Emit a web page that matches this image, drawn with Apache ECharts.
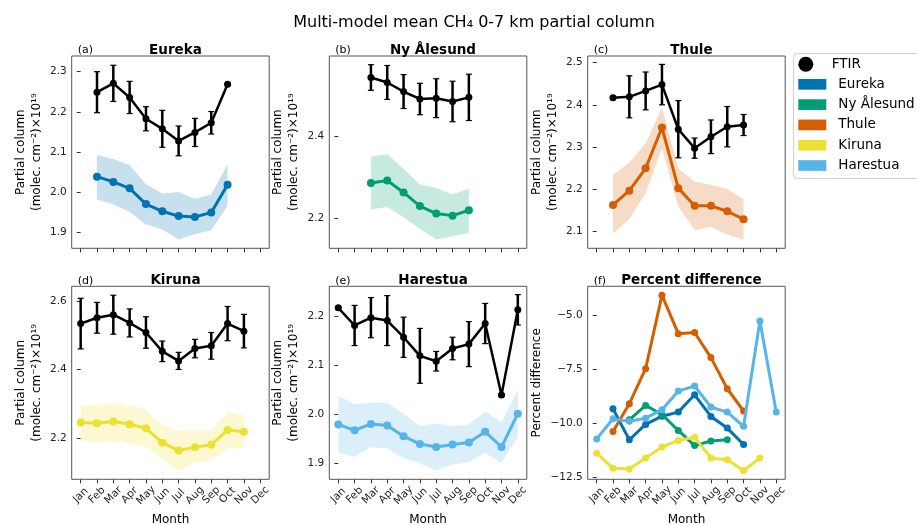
<!DOCTYPE html>
<html>
<head>
<meta charset="utf-8">
<script src="https://cdn.jsdelivr.net/npm/echarts@6/dist/echarts.min.js"></script>
<style>
html, body { margin: 0; padding: 0; background: #fff; }
#chart { width: 917px; height: 525px; }
</style>
</head>
<body>
<div id="chart"></div>
<script>
var myChart = echarts.init(document.getElementById('chart'));

var months = ['Jan', 'Feb', 'Mar', 'Apr', 'May', 'Jun', 'Jul', 'Aug', 'Sep', 'Oct', 'Nov', 'Dec'];
var stations = ['Eureka', 'Ny Ålesund', 'Thule', 'Kiruna', 'Harestua'];
var colors = ['#0173B2', '#029E73', '#D55E00', '#ECE133', '#56B4E9'];

// FTIR monthly means and errors (x1e19 molec/cm2)
var eurekaFtir    = [null, 2.249, 2.271, 2.236, 2.183, 2.158, 2.128, 2.149, 2.173, 2.269, null, null];
var eurekaFtirErr = [null, 0.051, 0.045, 0.040, 0.030, 0.046, 0.037, 0.035, 0.028, 0.003, null, null];
var eurekaModel   = [null, 2.039, 2.026, 2.010, 1.971, 1.953, 1.941, 1.939, 1.950, 2.019, null, null];
var eurekaHi      = [null, 2.093, 2.083, 2.068, 2.020, 1.997, 2.001, 1.984, 1.995, 2.070, null, null];
var eurekaLo      = [null, 1.982, 1.970, 1.951, 1.920, 1.908, 1.883, 1.896, 1.906, 1.967, null, null];

var nyFtir    = [null, null, 2.541, 2.529, 2.507, 2.489, 2.491, 2.483, 2.493, null, null, null];
var nyFtirErr = [null, null, 0.031, 0.041, 0.041, 0.038, 0.047, 0.049, 0.056, null, null, null];
var nyModel   = [null, null, 2.286, 2.292, 2.263, 2.230, 2.212, 2.207, 2.220, null, null, null];
var nyHi      = [null, null, 2.350, 2.356, 2.320, 2.282, 2.274, 2.258, 2.272, null, null, null];
var nyLo      = [null, null, 2.222, 2.228, 2.203, 2.175, 2.149, 2.157, 2.165, null, null, null];

var thuleFtir    = [null, 2.417, 2.419, 2.433, 2.448, 2.342, 2.297, 2.324, 2.348, 2.352, null, null];
var thuleFtirErr = [null, 0.003, 0.050, 0.045, 0.048, 0.068, 0.024, 0.040, 0.048, 0.025, null, null];
var thuleModel   = [null, 2.162, 2.196, 2.249, 2.346, 2.202, 2.160, 2.160, 2.147, 2.128, null, null];
var thuleHi      = [null, 2.233, 2.263, 2.308, 2.394, 2.249, 2.218, 2.210, 2.200, 2.176, null, null];
var thuleLo      = [null, 2.094, 2.128, 2.190, 2.297, 2.159, 2.102, 2.110, 2.091, 2.080, null, null];

var kirunaFtir    = [2.534, 2.551, 2.560, 2.536, 2.508, 2.453, 2.425, 2.461, 2.469, 2.534, 2.512, null];
var kirunaFtirErr = [0.074, 0.045, 0.057, 0.041, 0.046, 0.030, 0.025, 0.027, 0.039, 0.050, 0.049, null];
var kirunaModel   = [2.245, 2.243, 2.248, 2.240, 2.228, 2.186, 2.163, 2.173, 2.180, 2.223, 2.218, null];
var kirunaHi      = [2.294, 2.296, 2.303, 2.293, 2.282, 2.236, 2.221, 2.221, 2.221, 2.275, 2.267, null];
var kirunaLo      = [2.192, 2.186, 2.192, 2.184, 2.175, 2.139, 2.105, 2.126, 2.136, 2.170, 2.170, null];

var harestuaFtir    = [2.218, 2.182, 2.198, 2.192, 2.158, 2.120, 2.109, 2.135, 2.144, 2.186, 2.040, 2.214];
var harestuaFtirErr = [0.003, 0.041, 0.041, 0.051, 0.041, 0.056, 0.020, 0.023, 0.046, 0.041, 0.003, 0.031];
var harestuaModel   = [1.980, 1.968, 1.981, 1.978, 1.956, 1.940, 1.934, 1.939, 1.943, 1.965, 1.934, 2.002];
var harestuaHi      = [2.038, 2.021, 2.024, 2.024, 2.002, 1.977, 1.982, 1.977, 1.980, 2.006, 1.985, 2.050];
var harestuaLo      = [1.922, 1.914, 1.934, 1.931, 1.911, 1.901, 1.886, 1.898, 1.903, 1.922, 1.901, 1.956];

// percent difference model vs FTIR
var eurekaPct   = [null, -9.34, -10.77, -10.06, -9.68, -9.49, -8.69, -9.69, -10.23, -10.99, null, null];
var nyPct       = [null, null, -9.85, -9.18, -9.60, -10.34, -11.04, -10.83, -10.77, null, null, null];
var thulePct    = [null, -10.39, -9.10, -7.48, -4.08, -5.86, -5.81, -6.97, -8.41, -9.44, null, null];
var kirunaPct   = [-11.39, -12.09, -12.12, -11.62, -11.11, -10.80, -10.65, -11.62, -11.70, -12.19, -11.62, null];
var harestuaPct = [-10.73, -9.80, -9.91, -9.77, -9.38, -8.52, -8.28, -9.26, -9.49, -10.15, -5.27, -9.49];

var yTicksA = [1.9, 2.0, 2.1, 2.2, 2.3];
var yTicksB = [2.2, 2.4];
var yTicksC = [2.1, 2.2, 2.3, 2.4, 2.5];
var yTicksD = [2.2, 2.4, 2.6];
var yTicksE = [1.9, 2.0, 2.1, 2.2];
var yTicksF = [-12.5, -10.0, -7.5, -5.0];

var font = 'DejaVu Sans';
var W = 197.5;
var panels = [
    {tag: '(a)', title: 'Eureka', left: 71.7, top: 56, h: 192.3, min: 1.861, max: 2.339, ticks: yTicksA, st: 0,
     ftir: eurekaFtir, err: eurekaFtirErr, model: eurekaModel, hi: eurekaHi, lo: eurekaLo},
    {tag: '(b)', title: 'Ny Ålesund', left: 329.3, top: 56, h: 192.3, min: 2.128, max: 2.593, ticks: yTicksB, st: 1,
     ftir: nyFtir, err: nyFtirErr, model: nyModel, hi: nyHi, lo: nyLo},
    {tag: '(c)', title: 'Thule', left: 587.7, top: 56, h: 192.3, min: 2.059, max: 2.516, ticks: yTicksC, st: 2,
     ftir: thuleFtir, err: thuleFtirErr, model: thuleModel, hi: thuleHi, lo: thuleLo},
    {tag: '(d)', title: 'Kiruna', left: 71.7, top: 286.3, h: 193, min: 2.079, max: 2.643, ticks: yTicksD, st: 3,
     ftir: kirunaFtir, err: kirunaFtirErr, model: kirunaModel, hi: kirunaHi, lo: kirunaLo},
    {tag: '(e)', title: 'Harestua', left: 329.3, top: 286.3, h: 193, min: 1.868, max: 2.262, ticks: yTicksE, st: 4,
     ftir: harestuaFtir, err: harestuaFtirErr, model: harestuaModel, hi: harestuaHi, lo: harestuaLo},
    {tag: '(f)', title: 'Percent difference', left: 587.7, top: 286.3, h: 193, min: -12.6, max: -3.67, ticks: yTicksF}
];
var pctSeries = [eurekaPct, nyPct, thulePct, kirunaPct, harestuaPct];

function pts(arr) {
    var out = [];
    arr.forEach(function (v, i) { if (v != null) out.push([i, v]); });
    return out;
}

function bandRender(data, color) {
    return function (params, api) {
        if (params.dataIndex !== 0) return null;
        var poly = [];
        data.forEach(function (d) { poly.push(api.coord([d[0], d[2]])); });
        for (var k = data.length - 1; k >= 0; k--) poly.push(api.coord([data[k][0], data[k][1]]));
        return {type: 'polygon', shape: {points: poly}, style: {fill: color, opacity: 0.22}};
    };
}

function errRender(params, api) {
    var x = api.value(0), y = api.value(1), e = api.value(2);
    var t = api.coord([x, y + e]), b = api.coord([x, y - e]);
    var hw = 3;
    return {type: 'group', children: [
        {type: 'line', shape: {x1: t[0], y1: t[1], x2: b[0], y2: b[1]}, style: {stroke: '#000', lineWidth: 2.5}},
        {type: 'line', shape: {x1: t[0] - hw, y1: t[1], x2: t[0] + hw, y2: t[1]}, style: {stroke: '#000', lineWidth: 1.2}},
        {type: 'line', shape: {x1: b[0] - hw, y1: b[1], x2: b[0] + hw, y2: b[1]}, style: {stroke: '#000', lineWidth: 1.2}}
    ]};
}

var grids = [], xAxes = [], yAxes = [], series = [], titles = [];

titles.push({
    text: 'Multi-model mean CH₄ 0-7 km partial column',
    left: 469, top: 10, textAlign: 'center',
    textStyle: {fontFamily: font, fontSize: 16, fontWeight: 'normal', color: '#000'}
});

panels.forEach(function (p, i) {
    var bottomRow = i >= 3;
    grids.push({left: p.left, top: p.top, width: W, height: p.h, show: true,
        containLabel: false, outerBoundsMode: 'none',
        borderColor: '#555', borderWidth: 1, backgroundColor: 'transparent'});
    xAxes.push({
        type: 'value', gridIndex: i, min: -0.55, max: 11.55,
        name: bottomRow ? 'Month' : '', nameLocation: 'middle', nameGap: 35,
        nameTextStyle: {fontFamily: font, fontSize: 12, color: '#000'},
        axisLine: {show: false},
        axisTick: {show: true, length: 4, lineStyle: {color: '#333'},
            customValues: [0, 1, 2, 3, 4, 5, 6, 7, 8, 9, 10, 11]},
        axisLabel: {show: bottomRow, rotate: 45, align: 'center', verticalAlign: 'middle', margin: 16,
            fontFamily: font, fontSize: 10.5, color: '#222',
            customValues: [0, 1, 2, 3, 4, 5, 6, 7, 8, 9, 10, 11],
            formatter: function (v) { return months[Math.round(v)]; }},
        splitLine: {show: false}
    });
    var isPct = i === 5;
    yAxes.push({
        type: 'value', gridIndex: i, min: p.min, max: p.max,
        name: isPct ? 'Percent difference' : 'Partial column\n(molec. cm⁻²)×10¹⁹',
        nameLocation: 'middle', nameGap: isPct ? 43 : 27,
        nameTextStyle: {fontFamily: font, fontSize: 12, color: '#000', lineHeight: 16},
        axisLine: {show: false},
        axisTick: {show: true, length: 4, lineStyle: {color: '#333'}, customValues: p.ticks},
        axisLabel: {fontFamily: font, fontSize: 10.5, color: '#222', margin: 5, customValues: p.ticks,
            formatter: function (v) { return v < 0 ? '\u2212' + (-v).toFixed(1) : v.toFixed(1); }},
        splitLine: {show: false}
    });
    titles.push({
        text: p.title, left: p.left + W / 2, top: p.top - 18, textAlign: 'center',
        textStyle: {fontFamily: font, fontSize: 13.5, fontWeight: 'bold', color: '#000'}
    });
    titles.push({
        text: p.tag, left: p.left + 1, top: p.top - 16,
        textStyle: {fontFamily: font, fontSize: 11, fontWeight: 'normal', color: '#000'}
    });

    if (isPct) {
        pctSeries.forEach(function (arr, k) {
            series.push({
                type: 'line', name: stations[k], xAxisIndex: i, yAxisIndex: i,
                data: pts(arr), color: colors[k], symbol: 'circle', symbolSize: 7,
                lineStyle: {width: 3}, z: 2 + k
            });
        });
        return;
    }

    var color = colors[p.st];
    var band = [];
    p.lo.forEach(function (v, m) { if (v != null) band.push([m, v, p.hi[m]]); });
    series.push({
        type: 'custom', name: p.title + ' spread', xAxisIndex: i, yAxisIndex: i,
        data: band, encode: {x: 0, y: [1, 2]}, renderItem: bandRender(band, color), silent: true, z: 1
    });
    series.push({
        type: 'line', name: stations[p.st], xAxisIndex: i, yAxisIndex: i,
        data: pts(p.model), color: color, symbol: 'circle', symbolSize: 8,
        lineStyle: {width: 3}, z: 2
    });
    var eb = [];
    p.ftir.forEach(function (v, m) { if (v != null) eb.push([m, v, p.err[m]]); });
    series.push({
        type: 'custom', name: 'FTIR error', xAxisIndex: i, yAxisIndex: i,
        data: eb, encode: {x: 0, y: 1}, renderItem: errRender, silent: true, z: 3
    });
    series.push({
        type: 'line', name: 'FTIR', xAxisIndex: i, yAxisIndex: i,
        data: pts(p.ftir), color: '#000', symbol: 'circle', symbolSize: 7,
        lineStyle: {width: 2.5}, z: 4
    });
});

option = {
    backgroundColor: '#fff',
    animation: false,
    textStyle: {fontFamily: font},
    title: titles,
    grid: grids,
    xAxis: xAxes,
    yAxis: yAxes,
    legend: [{
        data: [{name: 'FTIR', icon: 'circle'}],
        left: 798.3, top: 56.3, orient: 'vertical', padding: 0,
        itemWidth: 28, itemHeight: 15, selectedMode: false,
        textStyle: {fontFamily: font, fontSize: 13.5, color: '#000', lineHeight: 16, padding: [0, 0, 0, 7]}
    }, {
        data: stations.map(function (s) { return {name: s, icon: 'rect'}; }),
        left: 798.3, top: 76.3, orient: 'vertical', padding: 0,
        itemWidth: 28, itemHeight: 10.7, itemGap: 4.3, selectedMode: false,
        textStyle: {fontFamily: font, fontSize: 13.5, color: '#000', lineHeight: 16, padding: [0, 0, 0, 7]}
    }],
    graphic: [{
        type: 'rect', left: 793, top: 53, z: -1,
        shape: {width: 140, height: 125, r: 4},
        style: {fill: '#fff', stroke: '#d0d0d0', lineWidth: 1}
    }],
    series: series
};
myChart.setOption(option);
</script>
</body>
</html>
